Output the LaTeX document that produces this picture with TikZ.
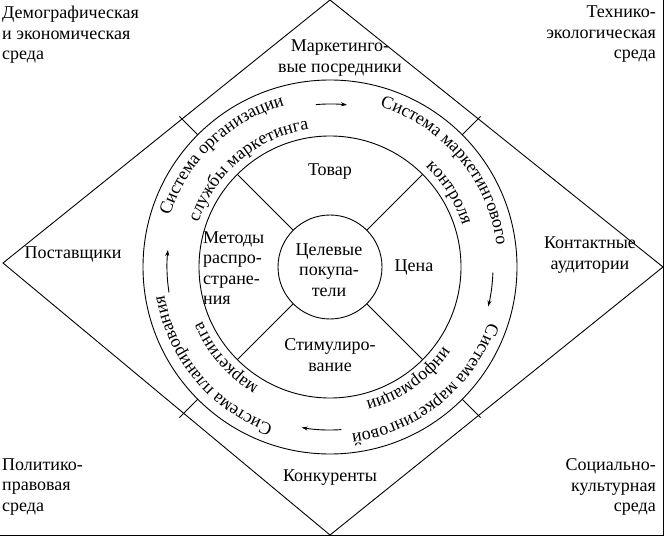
\documentclass[tikz,border=0pt]{standalone}
\usepackage{fontspec}
\setmainfont{Liberation Serif}
\usetikzlibrary{decorations.text,arrows.meta,calc}
\newcommand{\ringfont}{\fontsize{18}{20}\selectfont}
\begin{document}
\begin{tikzpicture}[x=1pt,y=1pt,
  lbl/.style={font=\fontsize{18}{20.5}\selectfont, inner sep=0pt, align=center},
  ln/.style={line width=0.9pt},
  arr/.style={line width=0.9pt,-{Stealth[length=6pt,width=4pt]}},
  ring/.style={decorate, decoration={text along path, text align=center, text={|\ringfont|#1}}}]
\useasboundingbox (0,0) rectangle (666,544);
\coordinate (c) at (330,277);
% frame lines
\draw[ln] (663,544) -- (663,9) -- (0,9);
% diamond
\draw[ln] (330,544) -- (663,277) -- (330,9) -- (3,281) -- cycle;
% circles
\draw[ln] (c) circle[radius=187];
\draw[ln] (c) circle[radius=131];
\draw[ln] (c) circle[radius=52];
\foreach \a in {45,135,225,315}{
  \draw[ln] ($(c)+(\a:52)$) -- ($(c)+(\a:131)$);
  \draw[ln] ($(c)+(\a:187)$) -- ($(c)+(\a:213)$);
}
% ring texts
\path[ring={Система организации}] (c) ++(174:168) arc[start angle=174,end angle=94,radius=168];
\path[ring={службы маркетинга}] (c) ++(172:139) arc[start angle=172,end angle=88,radius=139];
\path[ring={Система маркетингового}] (c) ++(84:168) arc[start angle=84,end angle=-4,radius=168];
\path[ring={контроля}] (c) ++(56:139) arc[start angle=56,end angle=8,radius=139];
\path[ring={Система маркетинговой}] (c) ++(-8:168) arc[start angle=-8,end angle=-94,radius=168];
\path[ring={информации}] (c) ++(-26:139) arc[start angle=-26,end angle=-84,radius=139];
\path[ring={Система планирования}] (c) ++(-98:168) arc[start angle=-98,end angle=-182,radius=168];
\path[ring={маркетинга}] (c) ++(-112:139) arc[start angle=-112,end angle=-166,radius=139];
% arrows
\draw[arr] (c) ++(95:163) arc[start angle=95,end angle=84,radius=163];
\draw[arr] (c) ++(-2:163) arc[start angle=-2,end angle=-14,radius=163];
\draw[arr] (c) ++(-86:163) arc[start angle=-86,end angle=-100,radius=163];
\draw[arr] (c) ++(189:163) arc[start angle=189,end angle=174,radius=163];
% labels
\node[lbl,align=left,anchor=north west] (dem) at (2,538) {Демографическая\\и экономическая\\среда};
\node[lbl,align=right,anchor=north east] (tech) at (656,538) {Технико-\\экологическая\\среда};
\node[lbl] (pos) at (340,486) {Маркетинго-\\вые посредники};
\node[lbl] (sup) at (73,290) {Поставщики};
\node[lbl] (kont) at (590,289) {Контактные\\аудитории};
\node[lbl,align=left,anchor=west] (pol) at (2,57) {Политико-\\правовая\\среда};
\node[lbl,align=right,anchor=east] (soc) at (656,57) {Социально-\\культурная\\среда};
\node[lbl] (konk) at (330,66) {Конкуренты};
\node[lbl] (tov) at (330,372) {Товар};
\node[lbl] (cena) at (414,276) {Цена};
\node[lbl] (stim) at (330,189) {Стимулиро-\\вание};
\node[lbl,align=left,anchor=west] (met) at (203,276) {Методы\\распро-\\стране-\\ния};
\node[lbl] (cel) at (329,274) {Целевые\\покупа-\\тели};
\end{tikzpicture}
\end{document}
